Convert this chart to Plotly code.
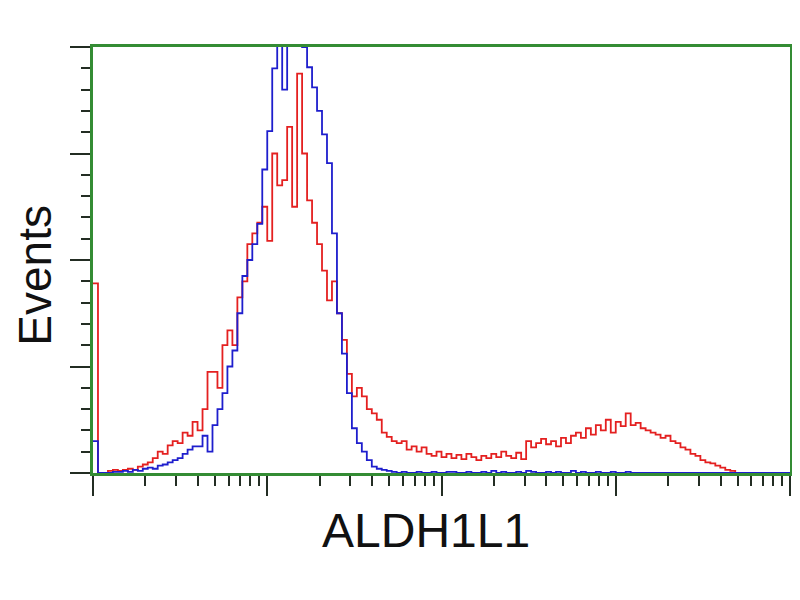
import numpy as np
import plotly.graph_objects as go

# Histogram counts per bin (35 bins per decade, starting at 10^0)
bins_per_decade = 35

red_counts = [
    178, 0, 0, 2, 3, 2, 3, 4, 3, 6,
    8, 10, 14, 20, 18, 26, 30, 28, 38, 35,
    48, 40, 60, 95, 95, 80, 120, 134, 120, 165,
    180, 215, 225, 235, 250, 218, 300, 270, 275, 325,
    250, 375, 300, 256, 235, 215, 190, 162, 180, 150,
    125, 93, 72, 80, 72, 60, 56, 50, 38, 34,
    30, 28, 30, 22, 25, 20, 24, 18, 16, 20,
    15, 18, 14, 17, 13, 18, 15, 12, 16, 14,
    18, 15, 20, 16, 14, 19, 13, 30, 24, 28,
    32, 27, 30, 25, 33, 28, 35, 38, 33, 42,
    36, 45, 40, 50, 38, 48, 44, 56, 45, 47,
    42, 40, 38, 36, 33, 35, 30, 28, 24, 22,
    18, 16, 12, 10, 9, 7, 5, 3, 2, 0,
    0, 0, 0, 0, 0, 0, 0, 0, 0, 0, 0,
]

blue_counts = [
    30, 0, 0, 0, 1, 1, 2, 1, 3, 2,
    4, 5, 4, 7, 8, 10, 12, 14, 18, 22,
    25, 25, 35, 20, 45, 60, 75, 100, 115, 150,
    185, 200, 215, 234, 285, 321, 380, 420, 360, 450,
    460, 430, 400, 381, 362, 340, 318, 291, 225, 150,
    112, 75, 42, 28, 20, 12, 6, 4, 3, 2,
    1, 0, 1, 0, 0, 1, 0, 0, 1, 0,
    0, 1, 1, 0, 0, 1, 0, 0, 1, 0,
    2, 0, 1, 0, 0, 1, 0, 2, 1, 0,
    0, 1, 0, 1, 0, 0, 2, 0, 1, 0,
    0, 1, 0, 0, 1, 0, 0, 1, 0, 0,
    0, 0, 0, 0, 0, 0, 0, 0, 0, 0,
    0, 0, 0, 0, 0, 0, 0, 0, 0, 0,
    0, 0, 0, 0, 0, 0, 0, 0, 0, 0, 0,
]

x_title = "ALDH1L1"
y_title = "Events"

def bin_x(counts):
    return 10 ** (np.arange(len(counts)) / bins_per_decade)

frame_green = "rgb(52,140,52)"
tick_dark = "rgb(35,45,35)"

fig = go.Figure()
fig.add_trace(go.Scatter(x=bin_x(red_counts), y=red_counts, mode="lines",
                         line=dict(color="rgb(228,32,32)", width=1.8, shape="hv"),
                         showlegend=False))
fig.add_trace(go.Scatter(x=bin_x(blue_counts), y=blue_counts, mode="lines",
                         line=dict(color="rgb(30,30,205)", width=1.8, shape="hv"),
                         showlegend=False))

major_x = [1, 10, 100, 1000, 10000]
minor_x = [m * 10 ** e for e in range(4) for m in range(2, 10)]

fig.update_xaxes(type="log", range=[0, 4], showgrid=False, zeroline=False,
                 showline=True, linecolor=frame_green, linewidth=3, mirror=True,
                 tickvals=major_x, ticks="outside", ticklen=20, tickwidth=2,
                 tickcolor=tick_dark, showticklabels=False, automargin=False,
                 minor=dict(tickvals=minor_x, ticks="outside", ticklen=10,
                            tickwidth=2, tickcolor=tick_dark, showgrid=False))
fig.update_yaxes(range=[0, 400], showgrid=False, zeroline=False,
                 showline=True, linecolor=frame_green, linewidth=3, mirror=True,
                 tickvals=[0, 100, 200, 300, 400], ticks="outside", ticklen=20,
                 tickwidth=2, tickcolor=tick_dark, showticklabels=False, automargin=False,
                 minor=dict(dtick=20, ticks="outside", ticklen=9, tickwidth=2,
                            tickcolor=tick_dark, showgrid=False))

fig.add_annotation(text=x_title, xref="paper", yref="paper", x=0.478, y=-0.136,
                   xanchor="center", yanchor="middle", showarrow=False,
                   font=dict(family="Liberation Sans, Arial", size=48, color="#111"))
fig.add_annotation(text=y_title, xref="paper", yref="paper", x=-0.0835, y=0.465,
                   xanchor="center", yanchor="middle", showarrow=False, textangle=-90,
                   font=dict(family="Liberation Sans, Arial", size=46, color="#111"))

fig.update_layout(width=800, height=600, margin=dict(l=85, r=18, t=39, b=135),
                  paper_bgcolor="white", plot_bgcolor="white")

fig.write_html("out.html")
